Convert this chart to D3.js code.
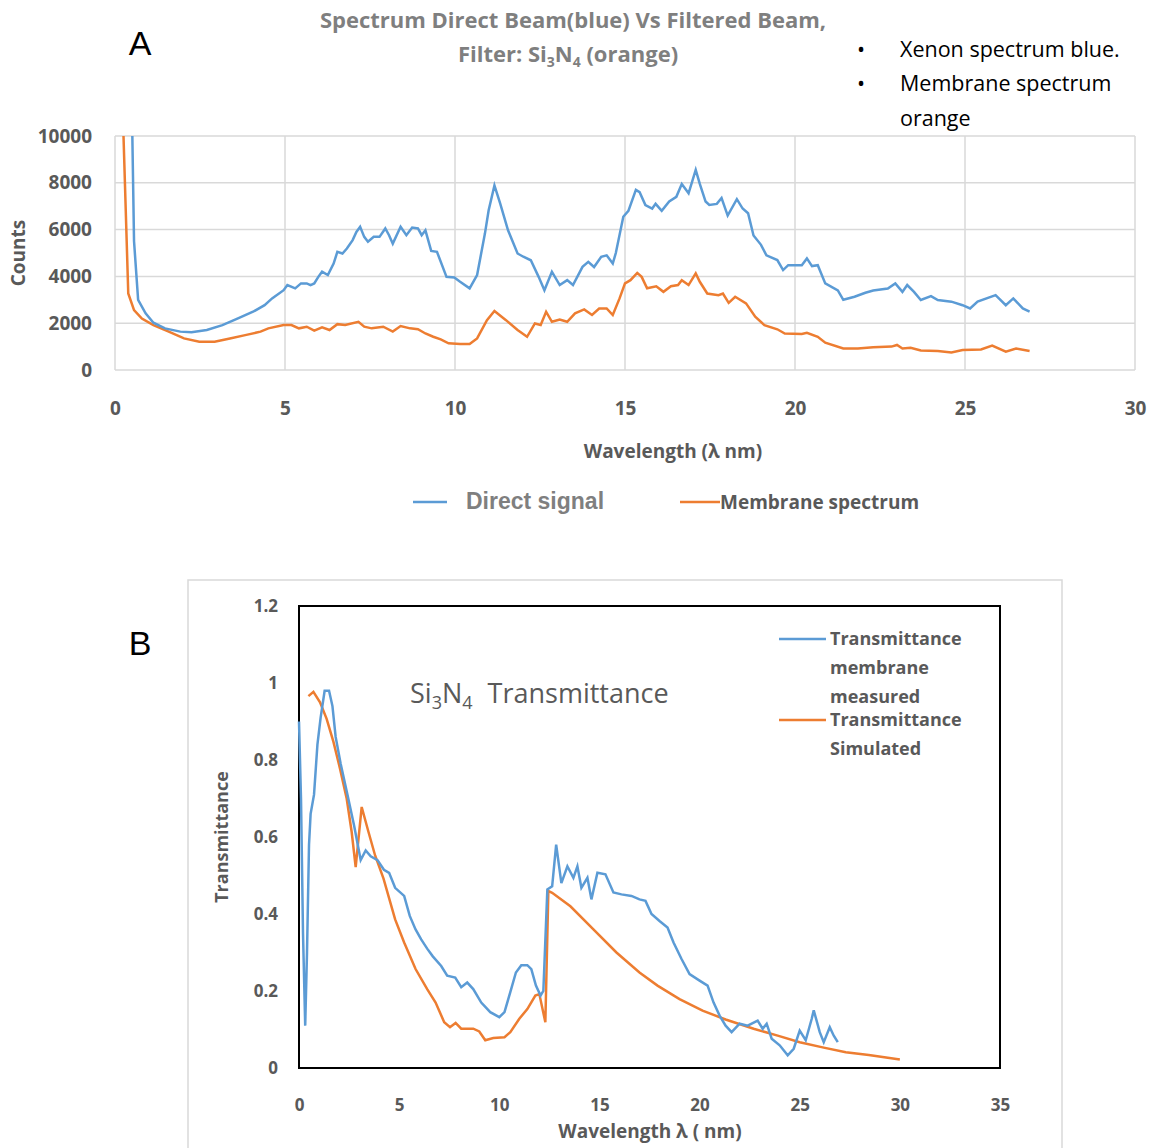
<!DOCTYPE html>
<html>
<head>
<meta charset="utf-8">
<script src="https://cdn.jsdelivr.net/npm/d3@7"></script>
<style>
  body { margin: 0; background: #fff; }
  svg text { font-family: "Liberation Sans Narrow", "Open Sans", sans-serif; }
</style>
</head>
<body>
<svg id="chart" width="1151" height="1148"></svg>
<script>
// ---- panel A: counts ----
const directX = [0.45, 0.51, 0.56, 0.68, 0.9, 1.13, 1.47, 1.92, 2.25, 2.7, 3.16, 3.6, 4.06, 4.4, 4.62, 4.96, 5.07, 5.3, 5.47, 5.64, 5.75, 5.86, 5.98, 6.09, 6.26, 6.43, 6.54, 6.69, 6.82, 6.99, 7.1, 7.21, 7.33, 7.44, 7.61, 7.78, 7.95, 8.06, 8.17, 8.4, 8.57, 8.74, 8.91, 9.02, 9.13, 9.3, 9.47, 9.75, 9.98, 10.15, 10.43, 10.65, 10.88, 10.99, 11.16, 11.33, 11.56, 11.84, 12.01, 12.23, 12.46, 12.63, 12.85, 13.08, 13.3, 13.47, 13.75, 13.92, 14.09, 14.3, 14.46, 14.64, 14.73, 14.95, 15.1, 15.32, 15.43, 15.6, 15.8, 15.9, 16.08, 16.3, 16.51, 16.67, 16.87, 17.08, 17.2, 17.37, 17.48, 17.7, 17.84, 18.02, 18.29, 18.46, 18.62, 18.78, 19.0, 19.16, 19.48, 19.65, 19.8, 20.2, 20.35, 20.5, 20.67, 20.89, 21.26, 21.42, 21.75, 22.07, 22.3, 22.73, 22.95, 23.16, 23.3, 23.5, 23.7, 24.0, 24.2, 24.6, 24.93, 25.15, 25.37, 25.9, 26.2, 26.42, 26.7, 26.9];
const directY = [14000, 10000, 5500, 3000, 2420, 2020, 1780, 1640, 1610, 1710, 1920, 2200, 2490, 2770, 3060, 3410, 3630, 3490, 3700, 3700, 3630, 3700, 3980, 4200, 4060, 4550, 5050, 4980, 5190, 5550, 5900, 6120, 5690, 5480, 5690, 5690, 6050, 5760, 5400, 6120, 5760, 6090, 6050, 5760, 5970, 5090, 5050, 3980, 3950, 3770, 3490, 4060, 5830, 6830, 7890, 7110, 5970, 4980, 4840, 4690, 3980, 3410, 4200, 3630, 3840, 3630, 4410, 4620, 4400, 4840, 4900, 4550, 5000, 6550, 6800, 7700, 7600, 7050, 6900, 7100, 6800, 7200, 7400, 7950, 7550, 8550, 7950, 7200, 7050, 7100, 7350, 6600, 7300, 6900, 6700, 5750, 5350, 4900, 4700, 4270, 4480, 4480, 4770, 4440, 4480, 3700, 3400, 3000, 3130, 3300, 3400, 3480, 3700, 3340, 3630, 3340, 2990, 3160, 2990, 2920, 2770, 2630, 2920, 3200, 2770, 3060, 2630, 2490];

const membraneX = [0.22, 0.25, 0.39, 0.56, 0.79, 1.13, 1.58, 2.03, 2.48, 2.93, 3.38, 3.83, 4.28, 4.51, 4.96, 5.19, 5.41, 5.64, 5.86, 6.09, 6.31, 6.54, 6.77, 7.16, 7.33, 7.55, 7.89, 8.17, 8.4, 8.68, 8.91, 9.13, 9.36, 9.58, 9.81, 10.15, 10.43, 10.65, 10.94, 11.16, 11.5, 11.84, 12.12, 12.35, 12.52, 12.68, 12.85, 13.08, 13.3, 13.53, 13.8, 14.03, 14.24, 14.46, 14.64, 14.84, 15.0, 15.16, 15.36, 15.49, 15.65, 15.92, 16.13, 16.35, 16.56, 16.67, 16.87, 17.08, 17.2, 17.42, 17.75, 17.88, 18.05, 18.24, 18.56, 18.83, 19.1, 19.48, 19.7, 20.2, 20.35, 20.67, 20.89, 21.42, 21.85, 22.3, 22.84, 23.0, 23.16, 23.4, 23.7, 24.2, 24.6, 24.93, 25.47, 25.8, 26.2, 26.5, 26.9];
const membraneY = [14000, 10000, 3270, 2560, 2200, 1920, 1640, 1350, 1210, 1210, 1350, 1490, 1640, 1780, 1920, 1920, 1780, 1850, 1680, 1820, 1710, 1960, 1920, 2060, 1850, 1780, 1850, 1640, 1880, 1780, 1740, 1560, 1420, 1310, 1140, 1110, 1110, 1350, 2130, 2520, 2130, 1710, 1420, 1990, 1920, 2490, 2060, 2160, 2060, 2420, 2590, 2350, 2630, 2630, 2350, 3060, 3700, 3840, 4150, 3980, 3490, 3580, 3340, 3580, 3630, 3840, 3630, 4130, 3770, 3270, 3200, 3270, 2870, 3130, 2850, 2280, 1920, 1740, 1560, 1540, 1590, 1420, 1170, 920, 920, 970, 1000, 1070, 920, 950, 830, 810, 750, 850, 880, 1040, 780, 920, 810];

const countTicks = [0, 2000, 4000, 6000, 8000, 10000];
const waveTicksA = [0, 5, 10, 15, 20, 25, 30];

// ---- panel B: transmittance ----
const measuredX = [0, 0.1, 0.2, 0.31, 0.4, 0.5, 0.58, 0.75, 0.92, 1.08, 1.28, 1.5, 1.67, 1.83, 2.08, 2.42, 2.75, 3.08, 3.33, 3.58, 3.92, 4.24, 4.5, 4.8, 5.25, 5.53, 5.82, 6.1, 6.4, 6.68, 7.1, 7.4, 7.8, 8.1, 8.4, 8.7, 9.1, 9.55, 10.0, 10.26, 10.55, 10.83, 11.1, 11.4, 11.6, 11.83, 12.06, 12.2, 12.4, 12.64, 12.84, 13.1, 13.4, 13.7, 13.9, 14.1, 14.4, 14.6, 14.9, 15.3, 15.7, 16.1, 16.6, 17.0, 17.3, 17.6, 18.0, 18.4, 18.7, 19.1, 19.5, 20.0, 20.4, 20.7, 21.0, 21.3, 21.6, 22.0, 22.4, 22.9, 23.15, 23.35, 23.6, 24.0, 24.4, 24.7, 25.0, 25.3, 25.6, 25.7, 26.0, 26.2, 26.5, 26.7, 26.9];
const measuredY = [0.9, 0.7, 0.35, 0.11, 0.3, 0.58, 0.66, 0.71, 0.84, 0.91, 0.98, 0.98, 0.94, 0.86, 0.79, 0.71, 0.63, 0.54, 0.565, 0.55, 0.54, 0.515, 0.507, 0.468, 0.447, 0.395, 0.36, 0.334, 0.31, 0.29, 0.265, 0.24, 0.235, 0.21, 0.222, 0.205, 0.17, 0.145, 0.132, 0.145, 0.197, 0.248, 0.267, 0.267, 0.257, 0.214, 0.188, 0.2, 0.464, 0.472, 0.58, 0.48, 0.524, 0.494, 0.524, 0.468, 0.494, 0.438, 0.507, 0.503, 0.456, 0.451, 0.447, 0.438, 0.434, 0.4, 0.382, 0.365, 0.326, 0.283, 0.244, 0.227, 0.214, 0.17, 0.136, 0.11, 0.093, 0.115, 0.11, 0.123, 0.102, 0.115, 0.076, 0.059, 0.033, 0.05, 0.097, 0.072, 0.128, 0.15, 0.093, 0.067, 0.106, 0.084, 0.067];

const simulatedX = [0.47, 0.72, 1.05, 1.38, 1.72, 2.05, 2.38, 2.63, 2.83, 3.13, 3.47, 3.8, 4.22, 4.8, 5.25, 5.82, 6.4, 6.82, 7.25, 7.54, 7.82, 8.1, 8.7, 9.0, 9.3, 9.7, 10.26, 10.55, 11.0, 11.4, 11.8, 12.0, 12.3, 12.45, 12.64, 13.55, 14.7, 15.85, 17.0, 17.9, 19.0, 20.15, 21.3, 22.7, 23.9, 25.0, 26.2, 27.3, 28.45, 30.0];
const simulatedY = [0.966, 0.977, 0.95, 0.907, 0.847, 0.777, 0.7, 0.613, 0.522, 0.678, 0.613, 0.552, 0.492, 0.386, 0.326, 0.257, 0.205, 0.17, 0.119, 0.106, 0.117, 0.102, 0.102, 0.095, 0.072, 0.078, 0.08, 0.093, 0.128, 0.153, 0.188, 0.192, 0.119, 0.46, 0.455, 0.42, 0.36, 0.3, 0.248, 0.214, 0.179, 0.149, 0.126, 0.102, 0.084, 0.067, 0.053, 0.041, 0.034, 0.022];

const transTicks = [0, 0.2, 0.4, 0.6, 0.8, 1, 1.2];
const waveTicksB = [0, 5, 10, 15, 20, 25, 30, 35];

const blue = "#5b9bd5", orange = "#ed7d31";
const svg = d3.select("#chart");

function zip(xs, ys) { return xs.map((x, i) => [x, ys[i]]); }

// ================= Panel A =================
const xA = d3.scaleLinear().domain([0, 30]).range([115, 1135]);
const yA = d3.scaleLinear().domain([0, 10000]).range([370, 136]);

svg.append("text").attr("x", 140).attr("y", 55).attr("text-anchor", "middle")
    .style("font-family", "Liberation Sans, Arial, sans-serif")
    .attr("font-size", 34).attr("fill", "#000").text("A");

const title = svg.append("g").attr("fill", "#7f7f7f").attr("font-weight", "bold").attr("font-size", 22).attr("text-anchor", "middle");
title.append("text").attr("x", 573).attr("y", 28).text("Spectrum Direct Beam(blue) Vs Filtered Beam,");
const t2 = title.append("text").attr("x", 568).attr("y", 62);
t2.append("tspan").text("Filter: Si");
t2.append("tspan").attr("font-size", 14).attr("dy", 5).text("3");
t2.append("tspan").attr("dy", -5).text("N");
t2.append("tspan").attr("font-size", 14).attr("dy", 5).text("4");
t2.append("tspan").attr("dy", -5).text(" (orange)");

const notes = svg.append("g").attr("font-size", 21.5).attr("fill", "#000");
[["Xenon spectrum blue.", 57, true], ["Membrane spectrum", 91, true], ["orange", 126, false]].forEach(([s, y, bullet]) => {
    if (bullet) notes.append("text").attr("x", 857).attr("y", y).text("•");
    notes.append("text").attr("x", 900).attr("y", y).text(s);
});

const gA = svg.append("g");
gA.append("g").selectAll("line").data(countTicks).join("line")
    .attr("x1", xA(0)).attr("x2", xA(30)).attr("y1", d => yA(d)).attr("y2", d => yA(d))
    .attr("stroke", "#d9d9d9").attr("stroke-width", 1.5);
gA.append("g").selectAll("line").data(waveTicksA).join("line")
    .attr("y1", yA(0)).attr("y2", yA(10000)).attr("x1", d => xA(d)).attr("x2", d => xA(d))
    .attr("stroke", "#d9d9d9").attr("stroke-width", 1.5);

const axA = gA.append("g").attr("transform", `translate(0,${yA(0) + 28})`)
    .call(d3.axisBottom(xA).tickValues(waveTicksA).tickSize(0).tickFormat(d3.format("d")));
const ayA = gA.append("g").attr("transform", `translate(${xA(0) - 20},0)`)
    .call(d3.axisLeft(yA).tickValues(countTicks).tickSize(0).tickFormat(d3.format("d")));
[axA, ayA].forEach(a => {
    a.select(".domain").remove();
    a.selectAll("text").attr("font-size", 19).attr("font-weight", "bold").attr("fill", "#595959")
        .style("font-family", "Liberation Sans Narrow, Open Sans, sans-serif");
});

gA.append("text").attr("transform", `translate(25,253) rotate(-90)`).attr("text-anchor", "middle")
    .attr("font-size", 19).attr("font-weight", "bold").attr("fill", "#595959").text("Counts");
gA.append("text").attr("x", 673).attr("y", 458).attr("text-anchor", "middle")
    .attr("font-size", 19).attr("font-weight", "bold").attr("fill", "#595959").text("Wavelength (λ nm)");

svg.append("clipPath").attr("id", "clipA").append("rect")
    .attr("x", xA(0)).attr("y", yA(10000)).attr("width", xA(30) - xA(0)).attr("height", yA(0) - yA(10000));
const lineA = d3.line().x(d => xA(d[0])).y(d => yA(d[1]));
const plotA = gA.append("g").attr("clip-path", "url(#clipA)");
plotA.append("path").attr("d", lineA(zip(membraneX, membraneY))).attr("fill", "none").attr("stroke", orange).attr("stroke-width", 2.5);
plotA.append("path").attr("d", lineA(zip(directX, directY))).attr("fill", "none").attr("stroke", blue).attr("stroke-width", 2.5);

// legend A
gA.append("line").attr("x1", 413).attr("x2", 447).attr("y1", 502).attr("y2", 502).attr("stroke", blue).attr("stroke-width", 2.5);
gA.append("text").attr("x", 466).attr("y", 509).attr("font-size", 23).attr("font-weight", "bold").attr("fill", "#7f7f7f")
    .style("font-family", "Liberation Sans, Arial, sans-serif").text("Direct signal");
gA.append("line").attr("x1", 680).attr("x2", 720).attr("y1", 502).attr("y2", 502).attr("stroke", orange).attr("stroke-width", 2.5);
gA.append("text").attr("x", 720).attr("y", 509).attr("font-size", 19).attr("font-weight", "bold").attr("fill", "#595959").text("Membrane spectrum");

// ================= Panel B =================
svg.append("rect").attr("x", 188).attr("y", 580).attr("width", 874).attr("height", 600)
    .attr("fill", "none").attr("stroke", "#d9d9d9").attr("stroke-width", 1.5);

const xB = d3.scaleLinear().domain([0, 35]).range([299, 1000]);
const yB = d3.scaleLinear().domain([0, 1.2]).range([1068, 606]);

svg.append("text").attr("x", 140).attr("y", 655).attr("text-anchor", "middle")
    .style("font-family", "Liberation Sans, Arial, sans-serif")
    .attr("font-size", 34).attr("fill", "#000").text("B");

const gB = svg.append("g");
const axB = gB.append("g").attr("transform", `translate(0,${yB(0) + 28})`)
    .call(d3.axisBottom(xB).tickValues(waveTicksB).tickSize(0));
const ayB = gB.append("g").attr("transform", `translate(${xB(0) - 18},0)`)
    .call(d3.axisLeft(yB).tickValues(transTicks).tickSize(0).tickFormat(d => String(d)));
[axB, ayB].forEach(a => {
    a.select(".domain").remove();
    a.selectAll("text").attr("font-size", 17).attr("font-weight", "bold").attr("fill", "#595959")
        .style("font-family", "Liberation Sans Narrow, Open Sans, sans-serif");
});

gB.append("rect").attr("x", xB(0)).attr("y", yB(1.2)).attr("width", xB(35) - xB(0)).attr("height", yB(0) - yB(1.2))
    .attr("fill", "none").attr("stroke", "#000").attr("stroke-width", 2);

gB.append("text").attr("transform", `translate(228,837) rotate(-90)`).attr("text-anchor", "middle")
    .attr("font-size", 18).attr("font-weight", "bold").attr("fill", "#595959").text("Transmittance");
gB.append("text").attr("x", 650).attr("y", 1138).attr("text-anchor", "middle")
    .attr("font-size", 19).attr("font-weight", "bold").attr("fill", "#595959").text("Wavelength λ ( nm)");

const inner = gB.append("text").attr("x", 410).attr("y", 703).attr("font-size", 27).attr("fill", "#595959")
    .style("font-family", "Open Sans, sans-serif");
inner.append("tspan").text("Si");
inner.append("tspan").attr("font-size", 18).attr("dy", 6).text("3");
inner.append("tspan").attr("dy", -6).text("N");
inner.append("tspan").attr("font-size", 18).attr("dy", 6).text("4");
inner.append("tspan").attr("dy", -6).attr("dx", 8).text("  Transmittance");

const lineB = d3.line().x(d => xB(d[0])).y(d => yB(d[1]));
gB.append("path").attr("d", lineB(zip(simulatedX, simulatedY))).attr("fill", "none").attr("stroke", orange).attr("stroke-width", 2.5);
gB.append("path").attr("d", lineB(zip(measuredX, measuredY))).attr("fill", "none").attr("stroke", blue).attr("stroke-width", 2.5);

// legend B
const legB = gB.append("g").attr("font-size", 18).attr("font-weight", "bold").attr("fill", "#595959")
    .style("font-family", "DejaVu Sans Condensed, sans-serif");
legB.append("line").attr("x1", 779).attr("x2", 826).attr("y1", 639).attr("y2", 639).attr("stroke", blue).attr("stroke-width", 2.5);
[["Transmittance", 645], ["membrane", 674], ["measured", 703]].forEach(([s, y]) =>
    legB.append("text").attr("x", 830).attr("y", y).text(s));
legB.append("line").attr("x1", 779).attr("x2", 826).attr("y1", 720).attr("y2", 720).attr("stroke", orange).attr("stroke-width", 2.5);
[["Transmittance", 726], ["Simulated", 755]].forEach(([s, y]) =>
    legB.append("text").attr("x", 830).attr("y", y).text(s));
</script>
</body>
</html>
